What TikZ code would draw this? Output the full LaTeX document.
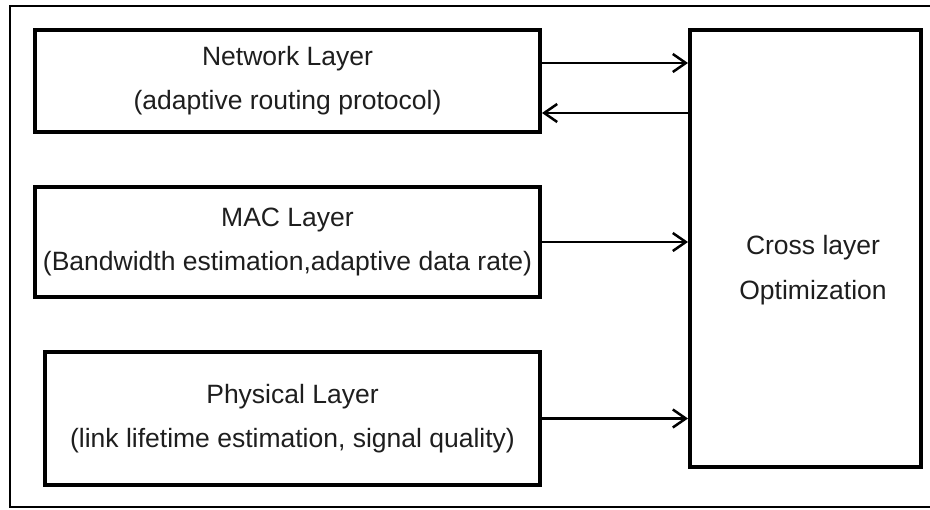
\documentclass[tikz,border=0pt]{standalone}
\usepackage{fontspec}
\setmainfont{Liberation Sans}
\usetikzlibrary{arrows.meta,positioning,calc}
\definecolor{ink}{HTML}{1E1E1E}
\tikzset{
  layer/.style={draw=black,line width=4pt,minimum width=505pt,align=center,inner sep=0pt,
    text=ink,font=\fontsize{26.5}{44}\selectfont},
  txt/.style={align=center,inner sep=0pt,text=ink,font=\fontsize{26.5}{45}\selectfont},
  ar/.style={-{Straight Barb[length=13pt,width=18pt,line width=2.5pt]},line width=2.5pt},
}
\begin{document}
\begin{tikzpicture}[x=1pt,y=-1pt]
\useasboundingbox (0,0) rectangle (930,510);
% outer frame
\draw[line width=2.2pt] (945,6) -- (10,6) -- (10,507) -- (945,507);
% layer boxes
\node[layer,minimum height=102pt] (net) at (287.5,81) {Network Layer\\(adaptive routing protocol)};
\node[layer,minimum height=110pt] (mac) at (287.5,242) {MAC Layer\\(Bandwidth estimation,adaptive data rate)};
\node[layer,minimum width=495pt,minimum height=133pt] (phy) at (292.5,418.5) {Physical Layer\\(link lifetime estimation, signal quality)};
% optimizer
\node[draw,line width=4pt,minimum width=231pt,minimum height=437pt] (cross) at (805.5,248.5) {};
\node[txt] (crosstxt) at (813,270) {Cross layer\\Optimization};
% connectors
\draw[ar] ([yshift=18pt]net.east) -- ([yshift=18pt]net.east -| cross.west);
\draw[ar] ([yshift=-32pt]net.east -| cross.west) -- ([yshift=-32pt]net.east);
\draw[ar] (mac.east) -- (mac.east -| cross.west);
\draw[ar] (phy.east) -- (phy.east -| cross.west);
\end{tikzpicture}
\end{document}
